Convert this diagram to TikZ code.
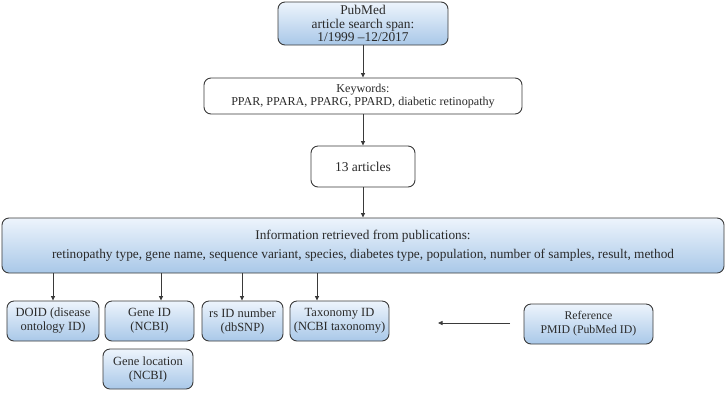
\documentclass[tikz,border=0pt]{standalone}
\usepackage{fontspec}
\setmainfont{Liberation Serif}
\usetikzlibrary{arrows.meta}
\definecolor{bordc}{HTML}{3A3A3A}
\definecolor{gtop}{HTML}{EDF4FC}
\definecolor{gbot}{HTML}{A9C8E8}
\definecolor{txtc}{HTML}{2A2A2A}
\tikzset{
  box/.style={draw=bordc, line width=0.9bp, rounded corners=7bp, inner sep=0pt, align=center,
    text=txtc, font=\fontsize{12.5bp}{14bp}\selectfont},
  bluebox/.style={box, top color=gtop, bottom color=gbot},
  whitebox/.style={box, fill=white},
  arr/.style={draw=bordc, line width=0.8bp, -{Triangle[length=4.5bp,width=4bp]}}
}
\begin{document}
\begin{tikzpicture}[x=1bp,y=-1bp]
\useasboundingbox (0,0) rectangle (726,402);
\node[bluebox, minimum width=170bp, minimum height=43bp, font=\fontsize{13.4bp}{13.4bp}\selectfont] (pub) at (363,23.5)
  {PubMed\\article search span:\\1/1999 --12/2017};
\node[whitebox, minimum width=318bp, minimum height=36bp, font=\fontsize{12.1bp}{13.5bp}\selectfont] (kw) at (363,96)
  {Keywords:\\PPAR, PPARA, PPARG, PPARD, diabetic retinopathy};
\node[whitebox, minimum width=104bp, minimum height=41bp, font=\fontsize{13.5bp}{14bp}\selectfont] (art) at (363,166.5) {13 articles};
\node[bluebox, minimum width=722bp, minimum height=55bp, font=\fontsize{13.3bp}{19bp}\selectfont] (info) at (363,245.5)
  {Information retrieved from publications:\\retinopathy type, gene name, sequence variant, species, diabetes type, population, number of samples, result, method};
\node[bluebox, minimum width=92bp, minimum height=40bp] (doid) at (53,321) {DOID (disease\\ontology ID)};
\node[bluebox, minimum width=89bp, minimum height=40bp] (gid) at (149.5,321) {Gene ID\\(NCBI)};
\node[bluebox, minimum width=81bp, minimum height=40bp] (rs) at (242.5,321) {rs ID number\\(dbSNP)};
\node[bluebox, minimum width=99bp, minimum height=40bp] (tax) at (339.5,321) {Taxonomy ID\\(NCBI taxonomy)};
\node[bluebox, minimum width=90bp, minimum height=40bp] (gloc) at (148,369) {Gene location\\(NCBI)};
\node[bluebox, minimum width=129bp, minimum height=40bp, font=\fontsize{11.8bp}{14bp}\selectfont] (ref) at (588.5,324) {Reference\\PMID (PubMed ID)};
\coordinate (c1) at (53,0);
\coordinate (c2) at (161,0);
\coordinate (c3) at (242,0);
\coordinate (c4) at (317,0);
\coordinate (refend) at (438,323);
\coordinate (refstart) at (510,323);
\draw[arr] (pub) -- (kw);
\draw[arr] (kw) -- (art);
\draw[arr] (art) -- (info);
\draw[arr] (info.south -| c1) -- (doid.north -| c1);
\draw[arr] (info.south -| c2) -- (gid.north -| c2);
\draw[arr] (info.south -| c3) -- (rs.north -| c3);
\draw[arr] (info.south -| c4) -- (tax.north -| c4);
\draw[arr] (refstart) -- (refend);
\end{tikzpicture}
\end{document}
